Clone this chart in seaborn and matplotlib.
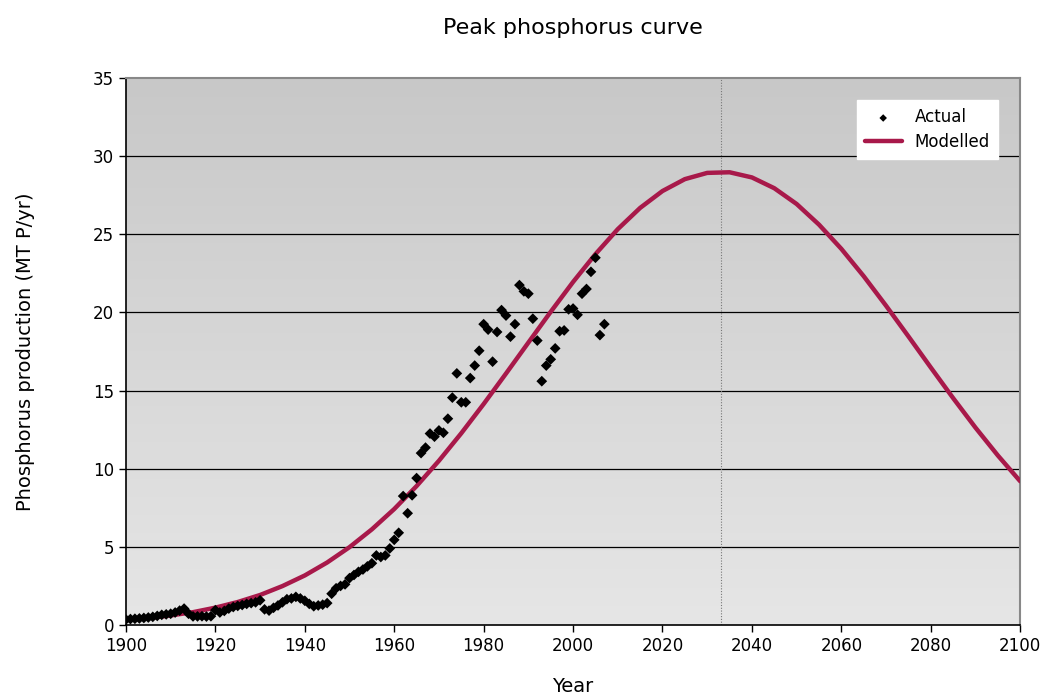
import numpy as np
import pandas as pd
import matplotlib
matplotlib.use("Agg")
import matplotlib.pyplot as plt
import seaborn as sns

# actual production, one point per year 1900-2007 (MT P/yr)
actual_years = list(range(1900, 2008))
actual_values = [
    0.35, 0.38, 0.40, 0.42, 0.45, 0.48, 0.52, 0.58, 0.65, 0.68,
    0.72, 0.80, 0.92, 1.05, 0.72, 0.55, 0.55, 0.56, 0.54, 0.56,
    0.95, 0.80, 0.90, 1.05, 1.15, 1.22, 1.28, 1.35, 1.40, 1.45,
    1.58, 1.00, 0.92, 1.10, 1.25, 1.45, 1.65, 1.70, 1.80, 1.70,
    1.55, 1.35, 1.20, 1.25, 1.30, 1.40, 2.00, 2.35, 2.50, 2.60,
    3.00, 3.20, 3.40, 3.55, 3.75, 3.95, 4.45, 4.35, 4.45, 4.90,
    5.45, 5.90, 8.25, 7.15, 8.30, 9.40, 11.00, 11.35, 12.25, 12.05,
    12.45, 12.30, 13.20, 14.55, 16.10, 14.25, 14.25, 15.80, 16.60, 17.55,
    19.25, 18.90, 16.85, 18.75, 20.15, 19.80, 18.45, 19.25, 21.75, 21.35,
    21.20, 19.60, 18.20, 15.60, 16.60, 17.00, 17.70, 18.80, 18.85, 20.20,
    20.25, 19.85, 21.20, 21.50, 22.60, 23.50, 18.55, 19.25,
]

# modelled curve read every 5 years 1900-2100
model_years = list(range(1900, 2101, 5))
model_values = [
    0.32, 0.44, 0.61, 0.82, 1.11, 1.47, 1.92, 2.49, 3.17, 4.00,
    4.98, 6.12, 7.42, 8.89, 10.51, 12.27, 14.14, 16.09, 18.07, 20.04,
    21.95, 23.73, 25.33, 26.69, 27.77, 28.53, 28.93, 28.97, 28.64, 27.95,
    26.94, 25.62, 24.07, 22.32, 20.43, 18.47, 16.48, 14.52, 12.63, 10.85,
    9.20,
]
peak_year = 2033

df_actual = pd.DataFrame({"year": actual_years, "value": actual_values})
df_model = pd.DataFrame({"year": model_years, "value": model_values})

sns.set_theme(style="white")
plt.rcParams["font.family"] = ["DejaVu Sans"]
plt.rcParams["text.color"] = "black"
plt.rcParams["axes.labelcolor"] = "black"
plt.rcParams["xtick.color"] = "black"
plt.rcParams["ytick.color"] = "black"

fig = plt.figure(figsize=(10.41, 6.98), dpi=100)
ax = fig.add_axes([0.121, 0.1046, 0.859, 0.7836])

# grey gradient background, darker at the top
grad = np.linspace(0, 1, 256).reshape(-1, 1)
cmap = matplotlib.colors.LinearSegmentedColormap.from_list("bg", ["#c8c8c8", "#e6e6e6"])
ax.imshow(grad, aspect="auto", cmap=cmap, extent=[0, 1, 0, 1],
          transform=ax.transAxes, zorder=0)

for yv in range(5, 35, 5):
    ax.axhline(yv, color="black", lw=0.9, zorder=1)
ax.axvline(peak_year, color="#777777", lw=0.8, ls=(0, (1, 1.5)), zorder=1)

sns.lineplot(data=df_model, x="year", y="value", ax=ax, color="#a8194a",
             lw=3.2, label="Modelled", zorder=3)
sns.scatterplot(data=df_actual, x="year", y="value", ax=ax, color="black",
                marker="D", s=30, edgecolor="none", label="Actual", zorder=4)

ax.set_xlim(1900, 2100)
ax.set_ylim(0, 35)
ax.set_xticks(range(1900, 2101, 20))
ax.set_yticks(range(0, 36, 5))
ax.tick_params(axis="both", labelsize=12, direction="out", length=5,
               width=1, color="black", bottom=True, left=True)
ax.set_xlabel("Year", fontsize=14, labelpad=16)
ax.set_ylabel("Phosphorus production (MT P/yr)", fontsize=14, labelpad=42)
ax.set_title("Peak phosphorus curve", fontsize=16, pad=32)

for side in ["left", "bottom"]:
    ax.spines[side].set_color("black")
    ax.spines[side].set_linewidth(1.2)
for side in ["top", "right"]:
    ax.spines[side].set_color("#888888")
    ax.spines[side].set_linewidth(1.5)

handles, labels = ax.get_legend_handles_labels()
order = [labels.index("Actual"), labels.index("Modelled")]
leg = ax.legend([handles[i] for i in order], [labels[i] for i in order],
                loc="upper right", bbox_to_anchor=(0.985, 0.975), fontsize=12,
                frameon=True, fancybox=False, framealpha=1, edgecolor="white",
                handlelength=2.2, borderpad=0.5, labelspacing=0.4,
                markerscale=0.7)
leg.get_frame().set_facecolor("white")

fig.savefig("out.png", dpi=100)
